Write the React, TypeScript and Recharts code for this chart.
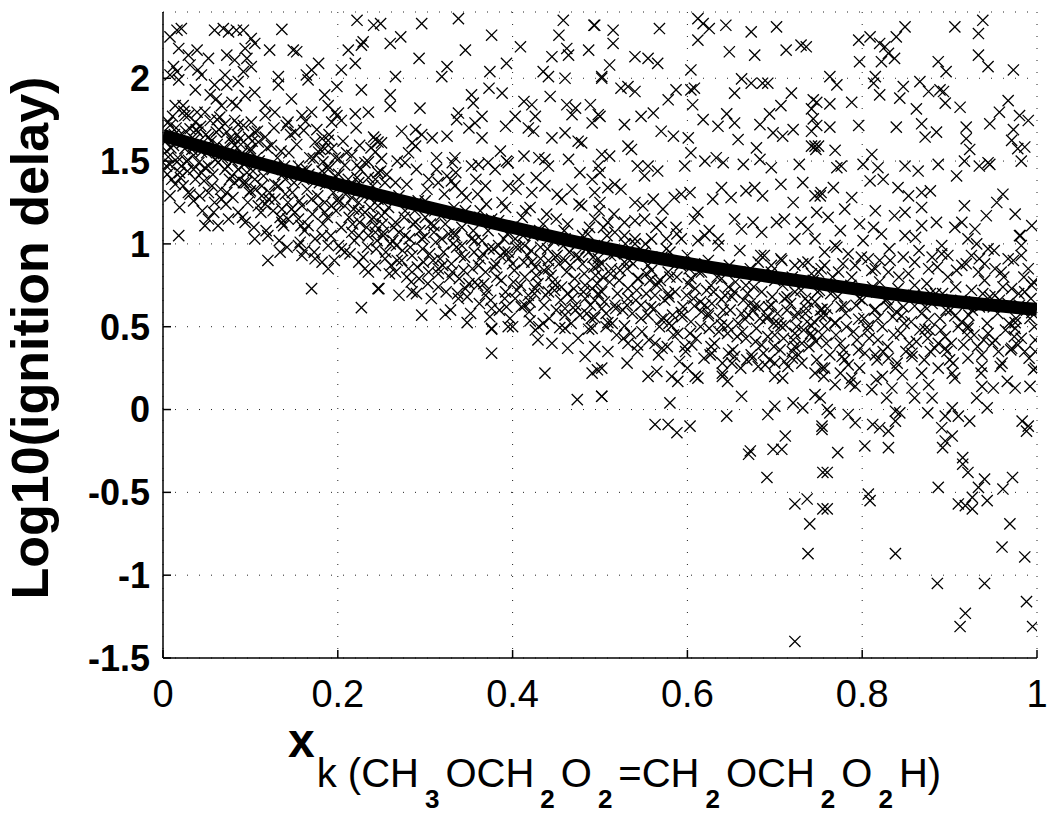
import React from 'react';
import {
  ComposedChart, Scatter, Line, XAxis, YAxis, CartesianGrid
} from 'recharts';

// x_k values 0..0.25 (all heights)
const ptsX00: [number, number][] = [
  [0.016,2.29],[0.021,2.30],[0.008,2.25],[0.059,2.29],[0.069,2.30],[0.075,2.28],[0.084,2.29],[0.092,2.29],[0.136,2.295],
  [0.101,2.24],[0.105,2.21],[0.094,2.18],[0.122,2.17],[0.149,2.17],[0.153,2.16],
  [0.018,2.18],[0.039,2.17],[0.029,2.14],[0.012,2.07],[0.008,2.02],[0.016,2.04],[0.031,2.08],[0.040,2.05],[0.052,2.12],
  [0.073,2.14],[0.082,2.11],[0.096,2.12],[0.101,2.07],[0.092,2.04],[0.086,1.98],[0.071,2.02],[0.073,1.96],[0.059,1.96],
  [0.044,2.02],[0.037,1.93],[0.018,1.99],[0.014,1.835],[0.023,1.835],[0.029,1.775],[0.039,1.795],[0.054,1.90],[0.061,1.875],
  [0.067,1.835],[0.079,1.855],[0.084,1.835],[0.094,1.895],[0.105,1.915],[0.132,2.01],[0.132,1.96],[0.147,1.875],[0.164,2.02],
  [0.170,2.05],[0.178,2.09],[0.166,1.99],[0.204,2.05],[0.220,2.09],[0.227,1.93],[0.222,2.35],[0.241,2.32],[0.227,2.20],
  [0.212,2.17],[0.229,2.22],[0.199,1.95],[0.185,1.90],[0.189,1.835],[0.197,1.795],[0.235,1.795],[0.220,1.785],[0.170,1.795],
  [0.159,1.775],[0.128,1.795],[0.117,1.775],[0.117,1.835],
  [0.006,1.735],[0.008,1.715],[0.025,1.775],[0.037,1.735],[0.048,1.795],[0.054,1.745],[0.065,1.765],[0.071,1.725],[0.082,1.745],
  [0.092,1.715],[0.101,1.735],[0.105,1.675],[0.098,1.645],[0.088,1.635],[0.079,1.615],[0.073,1.675],[0.061,1.675],[0.052,1.645],
  [0.040,1.675],[0.031,1.695],[0.019,1.655],[0.012,1.595],[0.025,1.575],[0.035,1.535],[0.044,1.555],[0.058,1.575],[0.069,1.545],
  [0.082,1.595],[0.090,1.545],[0.100,1.575],[0.109,1.615],[0.117,1.645],[0.124,1.595],[0.141,1.715],[0.143,1.735],[0.151,1.675],
  [0.161,1.685],[0.174,1.615],[0.182,1.635],[0.189,1.625],[0.193,1.735],[0.199,1.775],[0.204,1.745],[0.178,1.555],[0.185,1.575],
  [0.193,1.575],[0.172,1.515],[0.183,1.495],[0.201,1.515],[0.216,1.535],[0.225,1.595],[0.241,1.645],[0.246,1.615],[0.243,1.555],
  [0.250,1.515],[0.235,1.495],[0.222,1.475],[0.208,1.475],[0.197,1.41],[0.189,1.45],[0.212,1.39],[0.224,1.37],[0.235,1.40],
  [0.246,1.43],[0.254,1.37],
  [0.006,1.525],[0.004,1.47],[0.010,1.39],[0.008,1.29],[0.019,1.43],[0.023,1.35],[0.029,1.31],[0.037,1.39],[0.044,1.43],
  [0.052,1.47],[0.063,1.49],[0.071,1.45],[0.079,1.41],[0.086,1.45],[0.096,1.43],[0.105,1.39],[0.113,1.35],[0.122,1.31],
  [0.132,1.35],[0.140,1.39],[0.147,1.43],[0.155,1.47],[0.164,1.45],[0.029,1.505],[0.016,1.495],[0.021,1.47],[0.035,1.26],
  [0.042,1.29],[0.052,1.31],[0.059,1.25],[0.067,1.27],[0.073,1.31],[0.082,1.37],[0.092,1.37],[0.100,1.32],[0.109,1.23],
  [0.117,1.24],[0.128,1.27],[0.136,1.21],[0.143,1.15],[0.151,1.19],[0.159,1.23],[0.170,1.27],[0.178,1.23],[0.185,1.19],
  [0.193,1.23],[0.201,1.25],[0.208,1.23],[0.218,1.21],[0.224,1.25],[0.231,1.19],[0.239,1.15],[0.246,1.23],[0.254,1.19],
  [0.052,1.15],[0.048,1.11],[0.063,1.11],[0.075,1.15],[0.086,1.19],[0.094,1.13],[0.105,1.03],[0.120,1.05],[0.136,1.13],
  [0.138,1.11],[0.155,1.15],[0.166,1.11],[0.174,1.03],[0.182,1.05],[0.189,0.99],[0.204,0.97],[0.216,1.07],[0.224,1.05],
  [0.235,1.05],[0.243,1.11],[0.252,1.07],
  [0.018,1.05],[0.120,0.90],[0.134,0.95],[0.159,0.93],[0.174,0.91],[0.182,0.89],[0.189,0.85],[0.224,0.89],[0.231,0.85],
  [0.235,0.83],[0.243,0.87],[0.170,0.73],[0.227,0.615],[0.246,0.73],[0.155,0.99],[0.162,0.96],[0.201,0.99],[0.208,0.95],
];

// x_k 0..0.25, the dark core of the cloud
const denseX00: [number, number][] = [
  [0.003,1.62],[0.009,1.58],[0.013,1.66],[0.017,1.52],[0.022,1.61],[0.026,1.68],[0.028,1.44],[0.033,1.57],[0.036,1.63],
  [0.041,1.49],[0.043,1.71],[0.047,1.38],[0.050,1.55],[0.055,1.62],[0.057,1.42],[0.060,1.51],[0.064,1.69],[0.066,1.33],
  [0.070,1.58],[0.074,1.47],[0.077,1.64],[0.080,1.28],[0.083,1.53],[0.087,1.39],[0.089,1.60],[0.093,1.48],[0.097,1.25],
  [0.100,1.56],[0.103,1.44],[0.106,1.33],[0.110,1.50],[0.112,1.19],[0.115,1.41],[0.119,1.58],[0.121,1.27],[0.125,1.45],
  [0.128,1.36],[0.131,1.52],[0.134,1.16],[0.137,1.42],[0.140,1.30],[0.144,1.55],[0.147,1.21],[0.150,1.37],[0.153,1.60],
  [0.156,1.26],[0.159,1.44],[0.162,1.08],[0.165,1.33],[0.168,1.52],[0.171,1.18],[0.174,1.40],[0.177,1.29],[0.180,1.57],
  [0.183,1.12],[0.186,1.36],[0.189,1.47],[0.192,1.05],[0.195,1.31],[0.198,1.20],[0.201,1.42],[0.204,1.10],[0.207,1.35],
  [0.210,1.55],[0.213,1.16],[0.216,1.28],[0.219,1.02],[0.222,1.40],[0.225,1.13],[0.228,1.30],[0.231,1.49],[0.234,0.98],
  [0.237,1.22],[0.240,1.35],[0.243,1.07],[0.246,1.27],[0.249,1.44],[0.011,1.77],[0.024,1.80],[0.038,1.69],[0.062,1.75],
  [0.086,1.72],[0.108,1.68],[0.127,1.70],[0.146,1.66],[0.163,1.74],[0.176,1.69],[0.190,1.66],[0.206,1.62],[0.221,1.70],
  [0.238,1.58],[0.005,1.42],[0.014,1.36],[0.019,1.22],[0.031,1.30],[0.045,1.20],[0.058,1.19],[0.072,1.24],[0.091,1.16],
  [0.104,1.10],[0.118,1.08],[0.133,1.02],[0.142,0.98],[0.157,1.01],[0.173,0.95],[0.196,0.90],[0.214,0.94],[0.229,0.92],
  [0.244,0.97],[0.008,1.48],[0.048,1.46],[0.079,1.50],[0.095,1.37],[0.113,1.29],[0.139,1.47],[0.161,1.39],[0.185,1.25],
  [0.200,1.27],[0.224,1.20],[0.241,1.16],
  [0.004,1.56],[0.015,1.70],[0.027,1.50],[0.035,1.45],[0.049,1.66],[0.056,1.35],[0.068,1.52],[0.076,1.39],[0.085,1.66],
  [0.099,1.31],[0.107,1.52],[0.116,1.47],[0.126,1.20],[0.135,1.56],[0.148,1.31],[0.158,1.11],[0.167,1.42],[0.179,1.37],
  [0.188,1.16],[0.197,1.52],[0.209,1.30],[0.217,1.12],[0.226,1.45],[0.236,1.28],[0.245,1.02],[0.020,1.40],[0.062,1.60],
  [0.102,1.62],[0.143,1.25],[0.182,1.44],[0.215,1.35],[0.233,1.10],
];

// x_k values 0.25..0.5, above y = 0.45
const ptsX25Hi: [number, number][] = [
  [0.249,2.33],[0.296,2.33],[0.338,2.36],[0.260,2.21],[0.272,2.25],[0.293,2.12],[0.346,2.17],[0.376,2.26],[0.325,2.07],
  [0.319,2.01],[0.266,2.01],[0.374,2.04],[0.393,2.09],[0.409,2.19],[0.458,2.35],[0.453,2.26],[0.462,2.18],[0.464,2.14],
  [0.445,2.13],[0.493,2.32],[0.487,2.17],[0.435,2.04],[0.441,2.01],[0.460,2.00],[0.502,2.00],[0.443,1.89],[0.260,1.90],
  [0.260,1.83],[0.294,1.82],[0.353,1.90],[0.355,1.85],[0.373,1.94],[0.388,1.91],[0.338,1.79],[0.336,1.75],[0.357,1.73],
  [0.365,1.77],[0.350,1.70],[0.365,1.64],[0.392,1.71],[0.403,1.77],[0.413,1.86],[0.422,1.84],[0.426,1.77],[0.418,1.70],
  [0.424,1.68],[0.445,1.64],[0.462,1.84],[0.472,1.82],[0.468,1.78],[0.489,1.84],[0.491,1.73],[0.460,1.67],[0.475,1.62],
  [0.479,1.61],[0.500,1.77],[0.273,1.68],[0.289,1.69],[0.296,1.66],[0.308,1.64],[0.325,1.65],[0.243,1.63],[0.250,1.61],
  [0.285,1.61],[0.289,1.59],[0.334,1.52],[0.331,1.49],[0.353,1.47],[0.361,1.48],[0.372,1.49],[0.386,1.56],[0.393,1.50],
  [0.395,1.49],[0.413,1.53],[0.430,1.52],[0.437,1.51],[0.441,1.47],[0.464,1.51],[0.477,1.43],[0.491,1.39],[0.498,1.47],
  [0.277,1.49],[0.281,1.55],[0.313,1.45],[0.304,1.39],[0.315,1.37],[0.325,1.41],[0.334,1.35],[0.342,1.31],[0.369,1.35],
  [0.395,1.35],[0.407,1.39],[0.422,1.31],[0.437,1.35],[0.456,1.27],[0.468,1.33],[0.479,1.23],[0.494,1.31],[0.266,1.37],
  [0.254,1.27],[0.243,1.39],
  [0.250,1.17],[0.266,1.13],[0.277,1.05],[0.289,1.13],[0.296,1.03],[0.310,1.11],[0.319,1.03],[0.333,1.07],[0.342,0.99],
  [0.353,1.03],[0.363,0.91],[0.373,0.97],[0.384,0.99],[0.395,0.95],[0.403,1.03],[0.414,0.99],[0.422,0.89],[0.432,0.91],
  [0.441,0.85],[0.451,0.93],[0.460,1.03],[0.472,0.93],[0.487,0.95],[0.498,0.87],[0.254,0.91],[0.266,0.83],[0.281,0.85],
  [0.293,0.79],[0.304,0.83],[0.315,0.85],[0.331,0.83],[0.346,0.73],[0.357,0.77],[0.369,0.69],[0.376,0.61],[0.392,0.71],
  [0.403,0.67],[0.414,0.63],[0.426,0.73],[0.441,0.71],[0.449,0.75],[0.460,0.57],[0.472,0.63],[0.483,0.67],[0.491,0.73],
  [0.502,0.61],[0.247,0.73],[0.270,0.69],[0.285,0.71],[0.296,0.57],[0.323,0.575],[0.338,0.67],[0.348,0.525],[0.376,0.485],
  [0.395,0.50],[0.420,0.535],[0.430,0.50],[0.454,0.495],[0.487,0.485],[0.494,0.555],
];

// x_k 0.25..0.5, the dark core of the cloud
const denseX25: [number, number][] = [
  [0.252,1.05],[0.255,0.95],[0.258,1.22],[0.261,0.87],[0.264,1.10],[0.267,0.99],[0.270,1.29],[0.273,0.90],[0.276,1.16],
  [0.279,0.80],[0.282,1.03],[0.285,0.93],[0.288,1.20],[0.291,0.86],[0.294,1.08],[0.297,0.97],[0.300,1.26],[0.303,0.76],
  [0.306,1.12],[0.309,0.90],[0.312,1.01],[0.315,0.82],[0.318,1.17],[0.321,0.95],[0.324,0.71],[0.327,1.06],[0.330,0.88],
  [0.333,1.22],[0.336,0.98],[0.339,0.79],[0.342,1.10],[0.345,0.92],[0.348,0.68],[0.351,1.16],[0.354,0.85],[0.357,1.02],
  [0.360,0.75],[0.363,1.20],[0.366,0.94],[0.369,0.83],[0.372,1.08],[0.375,0.66],[0.378,0.97],[0.381,0.88],[0.384,1.14],
  [0.387,0.78],[0.390,1.03],[0.393,0.62],[0.396,0.91],[0.399,1.10],[0.402,0.84],[0.405,0.72],[0.408,0.98],[0.411,1.16],
  [0.414,0.80],[0.417,0.93],[0.420,0.65],[0.423,1.05],[0.426,0.86],[0.429,0.76],[0.432,0.98],[0.435,1.12],[0.438,0.69],
  [0.441,0.90],[0.444,0.81],[0.447,1.02],[0.450,0.60],[0.453,0.88],[0.456,0.74],[0.459,1.08],[0.462,0.83],[0.465,0.95],
  [0.468,0.67],[0.471,0.79],[0.474,1.00],[0.477,0.57],[0.480,0.88],[0.483,0.75],[0.486,1.06],[0.489,0.63],[0.492,0.92],
  [0.495,0.81],[0.498,0.70],
  [0.256,1.42],[0.268,1.50],[0.279,1.36],[0.290,1.45],[0.302,1.33],[0.313,1.52],[0.322,1.30],[0.335,1.43],[0.347,1.28],
  [0.358,1.39],[0.370,1.24],[0.380,1.45],[0.392,1.22],[0.404,1.33],[0.415,1.20],[0.427,1.40],[0.439,1.18],[0.451,1.30],
  [0.463,1.12],[0.476,1.24],[0.488,1.10],[0.499,1.20],
  [0.251,1.12],[0.263,1.02],[0.274,0.96],[0.286,1.12],[0.298,0.89],[0.310,1.07],[0.320,0.87],[0.332,1.00],[0.344,0.84],
  [0.356,0.95],[0.367,0.76],[0.379,0.86],[0.391,0.95],[0.401,0.77],[0.413,0.89],[0.425,0.70],[0.436,0.84],[0.448,0.72],
  [0.460,0.90],[0.470,0.73],[0.482,0.82],[0.494,0.66],[0.259,0.82],[0.284,0.77],[0.307,0.67],[0.329,0.60],[0.352,0.58],
  [0.374,0.56],[0.397,0.55],[0.419,0.59],[0.442,0.55],[0.467,0.52],[0.485,0.58],
  [0.260,1.00],[0.268,0.90],[0.277,1.20],[0.283,0.98],[0.292,1.26],[0.299,1.04],[0.305,0.94],[0.311,1.20],[0.317,0.91],
  [0.323,1.12],[0.328,0.80],[0.334,1.05],[0.340,0.93],[0.346,1.20],[0.350,0.76],[0.355,1.08],[0.361,0.87],[0.365,1.02],
  [0.371,0.72],[0.376,1.15],[0.382,0.80],[0.386,0.93],[0.391,0.67],[0.394,1.06],[0.400,0.88],[0.404,0.98],[0.409,0.75],
  [0.412,1.05],[0.418,0.69],[0.421,0.96],[0.427,0.81],[0.431,1.08],[0.436,0.63],[0.440,0.97],[0.446,0.77],[0.449,0.92],
  [0.455,0.66],[0.458,0.99],[0.463,0.70],[0.466,0.87],[0.472,0.60],[0.476,0.92],[0.481,0.71],[0.484,0.97],[0.490,0.55],
  [0.493,0.86],[0.497,0.76],[0.360,1.30],[0.330,1.38],[0.300,1.16],[0.420,1.22],[0.450,1.15],[0.480,1.05],[0.388,1.25],
  [0.270,1.07],[0.290,0.70],[0.315,0.74],[0.337,0.70],[0.362,0.64],[0.385,0.60],[0.410,0.62],[0.435,0.52],[0.460,0.61],
];

// x_k values 0.25..0.5, below y = 0.5
const ptsX25Lo: [number, number][] = [
  [0.376,0.49],[0.400,0.50],[0.426,0.48],[0.429,0.42],[0.445,0.40],[0.460,0.49],[0.463,0.37],[0.475,0.43],[0.483,0.32],
  [0.494,0.38],[0.491,0.22],[0.497,0.24],[0.491,0.49],[0.376,0.34],[0.437,0.22],[0.474,0.06],[0.502,0.08],
];

// x_k values 0.5..0.75, above y = 0.45
const ptsX50Hi: [number, number][] = [
  [0.494,2.32],[0.515,2.29],[0.568,2.30],[0.612,2.36],[0.618,2.33],[0.625,2.30],[0.644,2.32],[0.673,2.28],[0.702,2.31],
  [0.515,2.21],[0.612,2.23],[0.540,2.13],[0.555,2.12],[0.566,2.09],[0.511,2.08],[0.502,2.01],[0.648,2.16],[0.677,2.14],
  [0.713,2.17],[0.730,2.20],[0.736,2.19],[0.604,2.05],[0.524,1.94],[0.532,1.95],[0.540,1.92],[0.578,1.87],[0.587,1.93],
  [0.604,1.93],[0.608,1.94],[0.606,1.84],[0.654,1.91],[0.662,1.996],[0.673,1.97],[0.686,1.97],[0.692,1.97],[0.719,1.91],
  [0.744,1.87],[0.498,1.78],[0.528,1.72],[0.547,1.77],[0.561,1.79],[0.570,1.68],[0.584,1.65],[0.601,1.64],[0.618,1.75],
  [0.635,1.71],[0.645,1.785],[0.654,1.73],[0.658,1.63],[0.683,1.72],[0.694,1.785],[0.707,1.835],[0.698,1.67],[0.709,1.65],
  [0.721,1.69],[0.742,1.815],[0.744,1.755],[0.742,1.68],[0.742,1.59],[0.747,1.57],[0.532,1.59],[0.536,1.57],[0.502,1.54],
  [0.511,1.53],[0.543,1.47],[0.555,1.47],[0.566,1.44],[0.551,1.41],[0.597,1.47],[0.604,1.55],[0.620,1.50],[0.633,1.52],
  [0.641,1.49],[0.664,1.48],[0.679,1.58],[0.683,1.51],[0.696,1.46],[0.728,1.48],[0.746,1.59],[0.500,1.43],[0.517,1.36],
  [0.524,1.33],[0.509,1.34],[0.500,1.25],[0.540,1.25],[0.549,1.23],[0.561,1.27],[0.572,1.21],[0.585,1.28],[0.593,1.30],
  [0.603,1.31],[0.612,1.19],[0.629,1.27],[0.639,1.34],[0.650,1.28],[0.667,1.32],[0.677,1.34],[0.686,1.29],[0.707,1.36],
  [0.721,1.25],[0.732,1.37],[0.746,1.29],[0.753,1.31],
  [0.494,1.15],[0.509,1.13],[0.517,1.07],[0.505,0.99],[0.528,1.13],[0.540,1.03],[0.551,1.15],[0.559,1.03],[0.570,1.13],
  [0.576,1.03],[0.587,1.10],[0.593,1.03],[0.608,1.15],[0.620,1.05],[0.625,1.08],[0.635,1.03],[0.654,1.15],[0.662,1.09],
  [0.675,1.13],[0.685,1.07],[0.702,1.13],[0.711,1.15],[0.723,1.03],[0.730,1.13],[0.738,1.09],[0.746,1.03],[0.688,0.93],
  [0.681,0.89],[0.696,0.87],[0.707,0.91],[0.723,0.87],[0.738,0.89],[0.753,0.85],[0.498,0.91],[0.513,0.85],[0.528,0.89],
  [0.543,0.79],[0.555,0.87],[0.566,0.77],[0.578,0.83],[0.589,0.89],[0.604,0.79],[0.616,0.83],[0.627,0.75],[0.639,0.79],
  [0.654,0.71],[0.667,0.75],[0.685,0.71],[0.696,0.63],[0.711,0.67],[0.723,0.71],[0.738,0.65],[0.749,0.71],[0.502,0.71],
  [0.517,0.63],[0.532,0.67],[0.547,0.63],[0.563,0.69],[0.570,0.545],[0.582,0.505],[0.593,0.585],[0.608,0.625],[0.624,0.565],
  [0.639,0.665],[0.646,0.505],[0.666,0.545],[0.677,0.625],[0.692,0.565],[0.707,0.505],[0.726,0.585],[0.742,0.505],[0.753,0.565],
  [0.528,0.505],[0.509,0.525],
];

// x_k 0.5..0.75, the dark core of the cloud
const denseX50: [number, number][] = [
  [0.502,0.88],[0.505,0.65],[0.508,1.05],[0.511,0.77],[0.514,0.52],[0.517,0.94],[0.520,0.70],[0.523,0.84],[0.526,0.60],
  [0.529,1.00],[0.532,0.73],[0.535,0.46],[0.538,0.88],[0.541,0.66],[0.544,0.79],[0.547,0.55],[0.550,0.95],[0.553,0.70],
  [0.556,0.42],[0.559,0.84],[0.562,0.61],[0.565,0.75],[0.568,0.50],[0.571,0.92],[0.574,0.66],[0.577,0.38],[0.580,0.80],
  [0.583,0.57],[0.586,0.71],[0.589,0.46],[0.592,0.87],[0.595,0.62],[0.598,0.35],[0.601,0.76],[0.604,0.53],[0.607,0.67],
  [0.610,0.43],[0.613,0.83],[0.616,0.59],[0.619,0.31],[0.622,0.72],[0.625,0.49],[0.628,0.64],[0.631,0.40],[0.634,0.80],
  [0.637,0.55],[0.640,0.28],[0.643,0.69],[0.646,0.46],[0.649,0.60],[0.652,0.36],[0.655,0.77],[0.658,0.52],[0.661,0.25],
  [0.664,0.66],[0.667,0.43],[0.670,0.57],[0.673,0.33],[0.676,0.74],[0.679,0.49],[0.682,0.62],[0.685,0.39],[0.688,0.80],
  [0.691,0.55],[0.694,0.30],[0.697,0.68],[0.700,0.45],[0.703,0.58],[0.706,0.36],[0.709,0.75],[0.712,0.51],[0.715,0.26],
  [0.718,0.64],[0.721,0.42],[0.724,0.56],[0.727,0.33],[0.730,0.72],[0.733,0.48],[0.736,0.61],[0.739,0.38],[0.742,0.82],
  [0.745,0.53],[0.748,0.30],
  [0.504,1.10],[0.516,1.18],[0.528,1.05],[0.540,1.14],[0.552,1.00],[0.564,1.10],[0.576,0.97],[0.588,1.06],[0.600,0.93],
  [0.612,1.02],[0.624,0.90],[0.636,0.99],[0.648,0.87],[0.660,0.96],[0.672,0.85],[0.684,0.93],[0.696,0.83],[0.708,0.90],
  [0.720,0.80],[0.732,0.88],[0.744,0.78],
  [0.507,0.58],[0.519,0.45],[0.531,0.63],[0.543,0.39],[0.555,0.57],[0.567,0.33],[0.579,0.52],[0.591,0.29],[0.603,0.46],
  [0.615,0.65],[0.627,0.38],[0.639,0.51],[0.651,0.28],[0.663,0.47],[0.675,0.60],[0.687,0.34],[0.699,0.52],[0.711,0.29],
  [0.723,0.46],[0.735,0.67],[0.747,0.41],[0.512,0.82],[0.534,0.90],[0.557,0.78],[0.579,0.68],[0.602,0.85],[0.624,0.58],
  [0.647,0.74],[0.669,0.70],[0.692,0.44],[0.714,0.68],[0.737,0.53],
  [0.503,0.80],[0.507,0.50],[0.512,0.93],[0.518,0.61],[0.522,0.78],[0.527,0.43],[0.531,0.85],[0.537,0.58],[0.542,0.72],
  [0.548,0.47],[0.553,0.82],[0.558,0.62],[0.563,0.40],[0.569,0.78],[0.573,0.55],[0.578,0.70],[0.584,0.45],[0.588,0.80],
  [0.594,0.56],[0.599,0.69],[0.605,0.39],[0.609,0.73],[0.615,0.50],[0.620,0.63],[0.626,0.33],[0.630,0.71],[0.636,0.47],
  [0.641,0.60],[0.647,0.34],[0.651,0.68],[0.657,0.44],[0.662,0.58],[0.668,0.30],[0.672,0.64],[0.678,0.41],[0.683,0.55],
  [0.689,0.27],[0.693,0.62],[0.699,0.38],[0.704,0.52],[0.710,0.43],[0.714,0.60],[0.720,0.35],[0.725,0.50],[0.731,0.40],
  [0.735,0.58],[0.741,0.46],[0.746,0.65],[0.580,0.95],[0.620,0.88],[0.660,0.83],[0.700,0.78],[0.540,1.00],[0.600,0.25],
  [0.640,0.22],[0.700,0.20],
];

// x_k values 0.5..0.75, below y = 0.5
const ptsX50Lo: [number, number][] = [
  [0.502,0.08],[0.580,0.04],[0.662,0.08],[0.563,-0.09],[0.578,-0.09],[0.588,-0.14],[0.603,-0.10],[0.645,-0.04],[0.692,-0.03],
  [0.700,0.02],[0.721,0.04],[0.732,0.01],[0.712,-0.16],[0.672,-0.25],[0.670,-0.27],[0.698,-0.24],[0.708,-0.24],[0.691,-0.41],
  [0.723,-0.57],[0.737,-0.54],[0.740,-0.69],[0.738,-0.87],[0.723,-1.40],[0.754,-0.10],[0.755,-0.38],[0.755,-0.60],
  [0.502,0.25],[0.531,0.28],[0.555,0.20],[0.565,0.23],[0.582,0.20],[0.589,0.17],[0.609,0.20],[0.612,0.19],[0.640,0.20],
  [0.646,0.17],[0.700,0.28],[0.709,0.19],[0.720,0.31],[0.731,0.28],[0.746,0.22],[0.746,0.09],[0.509,0.35],[0.532,0.40],
  [0.543,0.35],[0.571,0.37],[0.597,0.38],[0.628,0.34],[0.654,0.32],[0.674,0.31],[0.681,0.26],[0.723,0.38],[0.743,0.44],
];

// x_k values 0.75..1, above y = 0.45
const ptsX75Hi: [number, number][] = [
  [0.849,2.31],[0.839,2.25],[0.796,2.23],[0.809,2.25],[0.820,2.21],[0.826,2.19],[0.830,2.15],[0.837,2.12],[0.797,2.10],
  [0.822,2.10],[0.887,2.10],[0.896,2.04],[0.906,2.31],[0.938,2.35],[0.933,2.27],[0.933,2.14],[0.944,2.07],[0.973,2.05],
  [0.763,2.01],[0.771,1.96],[0.815,2.01],[0.813,1.97],[0.820,1.90],[0.847,1.95],[0.843,1.88],[0.866,1.98],[0.876,1.92],
  [0.889,1.93],[0.893,1.92],[0.862,1.815],[0.895,1.85],[0.912,1.825],[0.748,1.855],[0.763,1.845],[0.788,1.855],[0.967,1.865],
  [0.957,1.795],[0.980,1.775],[0.990,1.745],[0.973,1.69],[0.946,1.725],[0.919,1.705],[0.919,1.635],[0.923,1.57],[0.748,1.715],
  [0.763,1.705],[0.796,1.715],[0.839,1.705],[0.868,1.725],[0.872,1.645],[0.885,1.675],[0.971,1.625],[0.978,1.575],[0.986,1.585],
  [0.982,1.50],[0.750,1.59],[0.769,1.565],[0.771,1.46],[0.776,1.47],[0.801,1.48],[0.811,1.54],[0.818,1.46],[0.809,1.38],
  [0.824,1.39],[0.849,1.47],[0.864,1.44],[0.887,1.48],[0.908,1.41],[0.917,1.50],[0.934,1.47],[0.944,1.49],[0.946,1.48],
  [0.752,1.29],[0.767,1.34],[0.788,1.28],[0.841,1.34],[0.853,1.29],[0.868,1.31],[0.878,1.32],[0.961,1.30],[0.954,1.25],
  [0.917,1.23],[0.748,1.19],[0.761,1.16],[0.780,1.21],[0.815,1.20],[0.837,1.17],[0.849,1.19],[0.868,1.22],[0.942,1.17],
  [0.975,1.18],[0.994,1.11],[0.775,1.08],[0.797,1.12],[0.813,1.10],[0.822,1.06],[0.849,1.05],[0.868,1.11],[0.885,1.13],
  [0.906,1.10],[0.914,1.13],[0.929,1.09],[0.980,1.05],[0.982,0.99],
  [0.769,0.99],[0.784,0.94],[0.807,0.91],[0.792,0.87],[0.757,0.87],[0.750,0.83],[0.773,0.83],[0.815,0.85],[0.830,0.83],
  [0.847,0.92],[0.860,0.89],[0.876,0.85],[0.891,0.99],[0.898,0.93],[0.914,0.87],[0.925,0.93],[0.934,0.91],[0.933,0.83],
  [0.944,0.97],[0.959,0.83],[0.967,0.91],[0.982,0.93],[0.990,0.85],[0.996,0.77],[0.986,0.71],[0.971,0.73],[0.952,0.69],
  [0.937,0.63],[0.917,0.65],[0.906,0.565],[0.891,0.665],[0.876,0.545],[0.860,0.625],[0.845,0.565],[0.828,0.665],[0.815,0.605],
  [0.796,0.545],[0.780,0.625],[0.769,0.525],[0.754,0.605],[0.757,0.505],[0.807,0.505],[0.872,0.485],[0.921,0.505],[0.975,0.525],
  [0.994,0.585],
];

// x_k 0.75..1, the dark core of the cloud
const denseX75: [number, number][] = [
  [0.751,0.72],[0.754,0.45],[0.757,0.95],[0.760,0.61],[0.763,0.33],[0.766,0.80],[0.769,0.52],[0.772,0.68],[0.775,0.40],
  [0.778,0.88],[0.781,0.58],[0.784,0.27],[0.787,0.75],[0.790,0.47],[0.793,0.63],[0.796,0.36],[0.799,0.92],[0.802,0.55],
  [0.805,0.71],[0.808,0.43],[0.811,0.84],[0.814,0.60],[0.817,0.30],[0.820,0.77],[0.823,0.50],[0.826,0.66],[0.829,0.38],
  [0.832,0.90],[0.835,0.56],[0.838,0.25],[0.841,0.73],[0.844,0.46],[0.847,0.62],[0.850,0.35],[0.853,0.82],[0.856,0.53],
  [0.859,0.69],[0.862,0.41],[0.865,0.96],[0.868,0.58],[0.871,0.30],[0.874,0.76],[0.877,0.48],[0.880,0.64],[0.883,0.37],
  [0.886,0.86],[0.889,0.55],[0.892,0.70],[0.895,0.44],[0.898,0.80],[0.901,0.60],[0.904,0.28],[0.907,0.74],[0.910,0.50],
  [0.913,0.66],[0.916,0.39],[0.919,0.88],[0.922,0.57],[0.925,0.72],[0.928,0.45],[0.931,1.00],[0.934,0.62],[0.937,0.33],
  [0.940,0.78],[0.943,0.52],[0.946,0.68],[0.949,0.40],[0.952,0.85],[0.955,0.58],[0.958,0.26],[0.961,0.74],[0.964,0.48],
  [0.967,0.64],[0.970,0.36],[0.973,0.90],[0.976,0.55],[0.979,0.70],[0.982,0.43],[0.985,0.80],[0.988,0.60],[0.991,0.31],
  [0.994,0.75],[0.997,0.50],
  [0.756,0.20],[0.771,0.98],[0.786,0.16],[0.801,1.02],[0.816,0.18],[0.831,0.97],[0.846,0.21],[0.861,1.04],[0.876,0.15],
  [0.891,0.94],[0.906,0.19],[0.921,1.03],[0.936,0.22],[0.951,0.96],[0.966,0.17],[0.981,1.05],[0.996,0.24],[0.758,0.57],
  [0.779,0.36],[0.797,0.67],[0.818,0.42],[0.839,0.59],[0.857,0.32],[0.878,0.70],[0.897,0.35],[0.918,0.63],[0.939,0.42],
  [0.957,0.66],[0.978,0.39],[0.993,0.67],
  [0.752,0.60],[0.759,0.40],[0.764,0.70],[0.770,0.45],[0.776,0.62],[0.782,0.50],[0.788,0.80],[0.794,0.42],[0.800,0.66],
  [0.806,0.48],[0.812,0.74],[0.818,0.55],[0.824,0.35],[0.830,0.62],[0.836,0.45],[0.842,0.80],[0.848,0.52],[0.854,0.40],
  [0.860,0.75],[0.866,0.48],[0.872,0.62],[0.878,0.35],[0.884,0.70],[0.890,0.48],[0.896,0.60],[0.902,0.40],[0.908,0.84],
  [0.914,0.53],[0.920,0.45],[0.926,0.60],[0.932,0.38],[0.938,0.70],[0.944,0.46],[0.950,0.62],[0.956,0.35],[0.962,0.80],
  [0.968,0.52],[0.974,0.44],[0.980,0.63],[0.986,0.35],[0.992,0.55],[0.998,0.42],[0.780,0.30],[0.840,0.28],[0.900,0.30],
  [0.960,0.28],[0.820,0.90],[0.880,0.92],[0.940,0.88],
];

// x_k values 0.75..1, below y = 0.5
const ptsX75Lo: [number, number][] = [
  [0.760,-0.38],[0.760,-0.60],[0.772,-0.26],[0.754,-0.12],[0.803,-0.22],[0.830,-0.23],[0.807,-0.51],[0.809,-0.55],[0.838,-0.87],
  [0.887,-0.47],[0.886,-1.05],[0.918,-1.23],[0.912,-1.31],[0.940,-1.05],[0.960,-0.83],[0.969,-0.69],[0.986,-0.89],[0.988,-1.16],
  [0.995,-1.31],[0.910,-0.57],[0.918,-0.58],[0.926,-0.60],[0.926,-0.53],[0.943,-0.55],[0.933,-0.47],[0.940,-0.42],[0.961,-0.48],
  [0.972,-0.41],[0.915,-0.29],[0.915,-0.33],[0.921,-0.38],[0.892,-0.23],[0.895,-0.19],[0.903,-0.16],[0.891,-0.11],[0.990,-0.10],
  [0.983,-0.07],[0.988,-0.13],[0.812,-0.09],[0.820,-0.11],[0.830,-0.13],
  [0.760,0.00],[0.763,-0.02],[0.784,-0.03],[0.792,-0.08],[0.838,-0.01],[0.843,-0.02],[0.838,-0.07],[0.875,-0.02],[0.895,-0.04],
  [0.903,0.01],[0.910,-0.04],[0.923,-0.07],[0.943,0.01],[0.931,0.07],[0.880,0.07],[0.860,0.07],[0.828,0.07],[0.811,0.12],
  [0.792,0.14],[0.769,0.15],[0.752,0.07],[0.937,0.14],[0.950,0.13],[0.975,0.13],[0.992,0.14],[0.998,0.25],[0.998,0.35],
  [0.921,0.31],[0.903,0.22],[0.887,0.25],[0.868,0.22],[0.857,0.13],[0.834,0.13],[0.823,0.20],[0.775,0.22],[0.754,0.25],
  [0.797,0.25],[0.788,0.19],
  [0.875,0.43],[0.887,0.40],[0.895,0.37],[0.952,0.42],[0.971,0.37],[0.937,0.26],[0.975,0.49],[0.921,0.49],[0.803,0.34],
  [0.815,0.33],[0.830,0.31],[0.857,0.34],[0.777,0.32],[0.757,0.25],
];

// thick fitted curve
const fitX = [0, 0.125, 0.25, 0.375, 0.5, 0.625, 0.75, 0.875, 1];
const fitY = [1.655, 1.465, 1.29, 1.13, 0.98, 0.86, 0.76, 0.67, 0.605];

const xTicks = [0, 0.2, 0.4, 0.6, 0.8, 1];
const yTicks = [-1.5, -1, -0.5, 0, 0.5, 1, 1.5, 2];

const scatterData = [
  ...ptsX00, ...denseX00, ...ptsX25Hi, ...denseX25, ...ptsX25Lo,
  ...ptsX50Hi, ...denseX50, ...ptsX50Lo, ...ptsX75Hi, ...denseX75, ...ptsX75Lo,
].map(([x, y]) => ({ x, y }));

const fitData = fitX.map((x, i) => ({ x, y: fitY[i] }));

const FONT = '"Liberation Sans", Arial, Helvetica, sans-serif';

const XMark = (props: any) => {
  const { cx, cy } = props;
  if (cx == null || cy == null) return null;
  const r = 5.6;
  return (
    <path
      d={`M${cx - r},${cy - r}L${cx + r},${cy + r}M${cx - r},${cy + r}L${cx + r},${cy - r}`}
      stroke="#000"
      strokeWidth={1.3}
      fill="none"
    />
  );
};

const XTick = (props: any) => {
  const { x, y, payload } = props;
  return (
    <text x={x} y={y + 49} textAnchor="middle" fontFamily={FONT} fontSize={38} fill="#000">
      {payload.value}
    </text>
  );
};

const YTick = (props: any) => {
  const { x, y, payload } = props;
  return (
    <text x={x} y={y} dy="0.36em" textAnchor="end" fontFamily={FONT} fontSize={36} fontWeight="bold" fill="#000">
      {payload.value}
    </text>
  );
};

const XTitle = (props: any) => {
  const { x, y } = props.viewBox;
  const main = { fontSize: 40 };
  const sub = { fontSize: 26, fontWeight: 'bold' as const };
  const d = 21;
  return (
    <text x={x + 125} y={y + 99} fontFamily={FONT} fill="#000">
      <tspan fontSize={48} fontWeight="bold">x</tspan>
      <tspan {...main} dx={2} dy={30}>k (CH</tspan>
      <tspan {...sub} dx={6} dy={d}>3</tspan>
      <tspan {...main} dx={6} dy={-d}>OCH</tspan>
      <tspan {...sub} dx={6} dy={d}>2</tspan>
      <tspan {...main} dx={6} dy={-d}>O</tspan>
      <tspan {...sub} dx={6} dy={d}>2</tspan>
      <tspan {...main} dx={6} dy={-d}>=CH</tspan>
      <tspan {...sub} dx={6} dy={d}>2</tspan>
      <tspan {...main} dx={6} dy={-d}>OCH</tspan>
      <tspan {...sub} dx={6} dy={d}>2</tspan>
      <tspan {...main} dx={6} dy={-d}>O</tspan>
      <tspan {...sub} dx={6} dy={d}>2</tspan>
      <tspan {...main} dx={6} dy={-d}>H)</tspan>
    </text>
  );
};

const YTitle = (props: any) => {
  const { x, y, height } = props.viewBox;
  const cx = x + 35;
  const cy = y + height / 2 + 3;
  return (
    <text
      x={cx}
      y={cy}
      transform={`rotate(-90, ${cx}, ${cy})`}
      textAnchor="middle"
      fontFamily={FONT}
      fontSize={52}
      fontWeight="bold"
      fill="#000"
    >
      Log10(ignition delay)
    </text>
  );
};

export default function App() {
  return (
    <div style={{ position: 'absolute', left: 0, top: 0, width: 1048, height: 816, background: '#fff' }}>
      <ComposedChart
        width={1048}
        height={816}
        margin={{ top: 12, right: 11, left: 13, bottom: 98 }}
      >
        <CartesianGrid stroke="#222" strokeDasharray="1 11" />
        <XAxis
          type="number"
          dataKey="x"
          domain={[0, 1]}
          ticks={xTicks}
          interval={0}
          allowDataOverflow
          height={60}
          tickSize={-8}
          tickMargin={8}
          axisLine={{ stroke: '#000', strokeWidth: 1.5 }}
          tickLine={{ stroke: '#000', strokeWidth: 1.5 }}
          tick={<XTick />}
          label={<XTitle />}
        />
        <YAxis
          type="number"
          dataKey="y"
          domain={[-1.5, 2.4]}
          ticks={yTicks}
          interval={0}
          allowDataOverflow
          width={150}
          tickSize={-8}
          tickMargin={21}
          axisLine={{ stroke: '#000', strokeWidth: 1.5 }}
          tickLine={{ stroke: '#000', strokeWidth: 1.5 }}
          tick={<YTick />}
          label={<YTitle />}
        />
        <Scatter data={scatterData} shape={<XMark />} isAnimationActive={false} />
        <Line
          data={fitData}
          dataKey="y"
          type="monotone"
          stroke="#000"
          strokeWidth={13}
          dot={false}
          activeDot={false}
          isAnimationActive={false}
        />
      </ComposedChart>
    </div>
  );
}
